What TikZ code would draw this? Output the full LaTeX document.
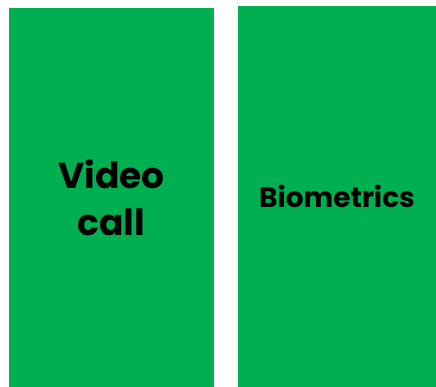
\documentclass[tikz,border=0pt]{standalone}
\usepackage{fontspec}
\setmainfont{Poppins}
\usetikzlibrary{positioning}
\definecolor{officegreen}{HTML}{00B050}
\begin{document}
\begin{tikzpicture}[x=1pt, y=1pt, panel/.style={rectangle, fill=officegreen, draw=none, inner sep=0pt, align=center, font=\bfseries}]
        \useasboundingbox (0,0) rectangle (436,387);

          \node[panel, minimum width=205pt, minimum height=379pt, font=\bfseries\fontsize{36}{47}\selectfont] (video) at (111.5,189.5) {Video\\call};
          \node[panel, minimum width=198pt, minimum height=381pt, font=\bfseries\fontsize{28}{34}\selectfont] (bio) at (337,190.5) {Biometrics};

        \end{tikzpicture}
\end{document}
